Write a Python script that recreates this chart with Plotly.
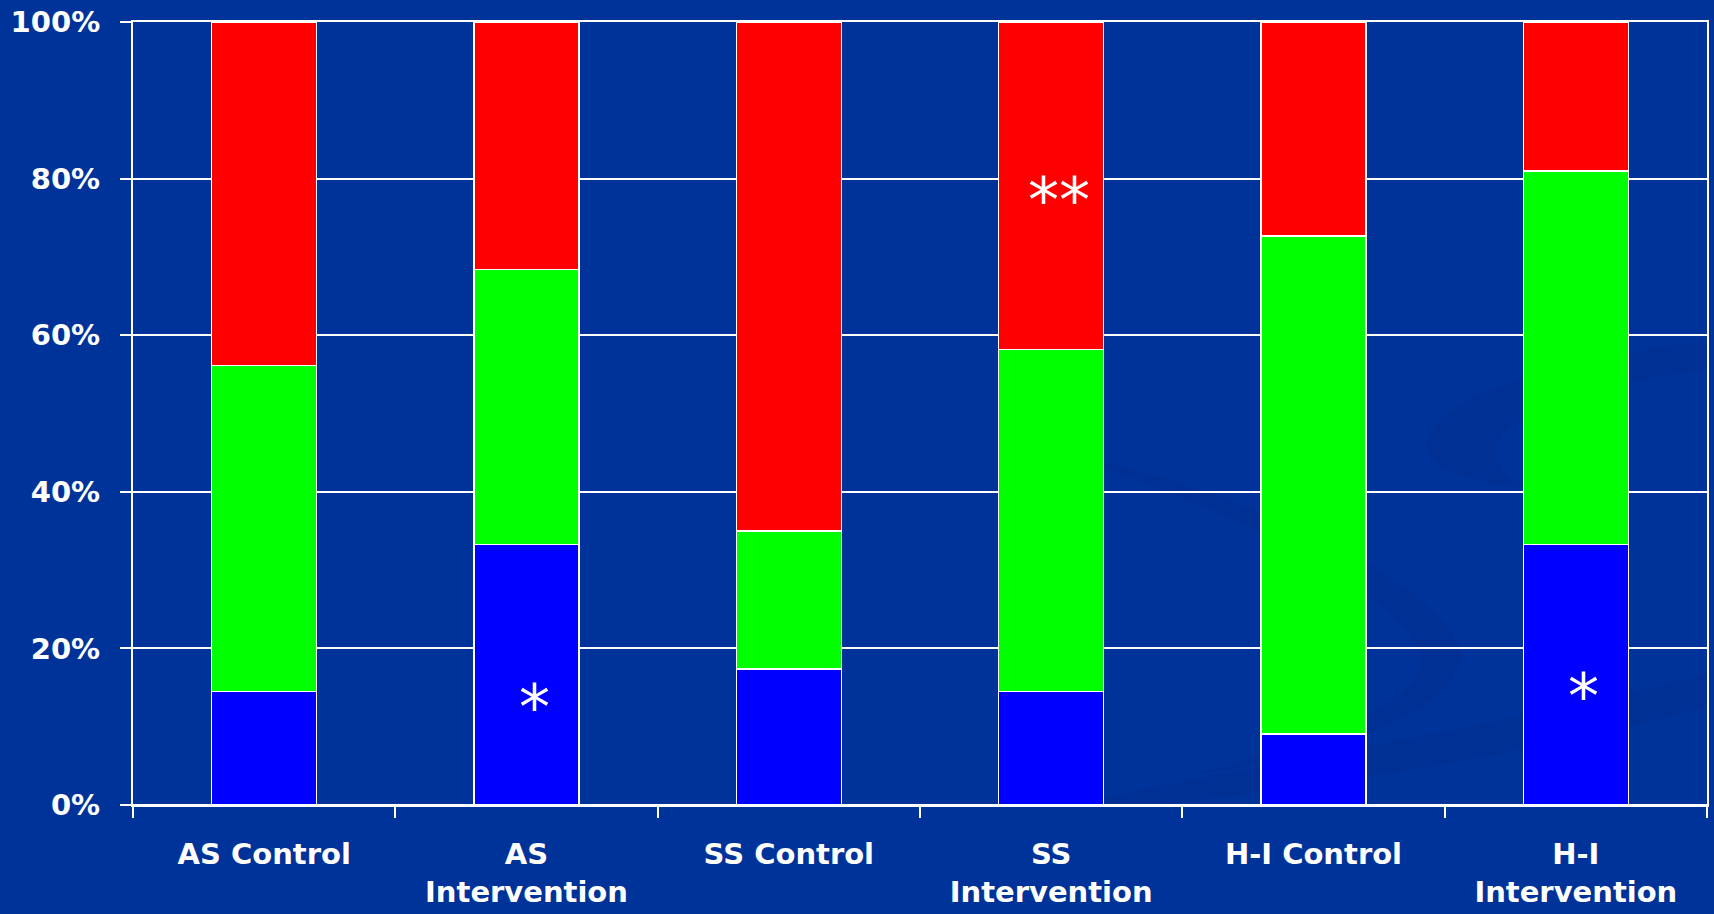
import plotly.graph_objects as go

# Groups and the share of each response band (percent of group)
categories = ["AS Control", "AS<br>Intervention", "SS Control",
              "SS<br>Intervention", "H-I Control", "H-I<br>Intervention"]
blue_pct = [14.5, 33.3, 17.4, 14.5, 9.1, 33.3]
green_pct = [41.6, 35.1, 17.6, 43.7, 63.6, 47.7]
red_pct = [43.9, 31.6, 65.0, 41.8, 27.3, 19.0]

# Significance markers: group, height (percent), symbol
marker_groups = ["AS<br>Intervention", "SS<br>Intervention", "H-I<br>Intervention"]
marker_heights = [12.4, 77.2, 13.9]
marker_text = ["*", "**", "*"]

BG = "#003399"
SWIRL = "rgba(0, 30, 110, 0.10)"
FONT = "DejaVu Sans"

fig = go.Figure()
for vals, color in [(blue_pct, "#0000FF"), (green_pct, "#00FF00"), (red_pct, "#FF0000")]:
    fig.add_trace(go.Bar(
        x=categories, y=vals,
        marker=dict(color=color, line=dict(color="white", width=1.5)),
        hoverinfo="skip", showlegend=False,
    ))

for g, h, t in zip(marker_groups, marker_heights, marker_text):
    fig.add_annotation(
        x=g, y=h, text=t, showarrow=False, xshift=8,
        font=dict(family=FONT, size=62, color="white"),
        yanchor="middle",
    )

# faint decorative swirl in the slide background (pixel-space paths)
W, H = 1714, 914
def P(x, y):
    return f"{x / W:.4f},{1 - y / H:.4f}"

swirl_paths = [
    # crescent at the right edge
    f"M{P(1714, 372)} C{P(1560, 390)} {P(1400, 440)} {P(1410, 500)} "
    f"C{P(1420, 530)} {P(1480, 540)} {P(1520, 545)} "
    f"C{P(1470, 520)} {P(1460, 480)} {P(1560, 440)} C{P(1620, 420)} {P(1680, 410)} {P(1714, 405)} Z",
    # long sweeping band across the lower right
    f"M{P(1020, 914)} C{P(1250, 860)} {P(1500, 820)} {P(1714, 760)} "
    f"L{P(1714, 800)} C{P(1500, 860)} {P(1300, 890)} {P(1120, 914)} Z",
    # inner arc curling back near the middle
    f"M{P(1000, 500)} C{P(1200, 540)} {P(1420, 650)} {P(1445, 730)} "
    f"C{P(1460, 800)} {P(1300, 860)} {P(1150, 880)} "
    f"C{P(1290, 840)} {P(1420, 790)} {P(1400, 735)} "
    f"C{P(1370, 660)} {P(1200, 570)} {P(1000, 500)} Z",
]
for path in swirl_paths:
    fig.add_shape(type="path", path=path, xref="paper", yref="paper",
                  fillcolor=SWIRL, line=dict(width=0), layer="below")

fig.update_layout(
    barmode="stack",
    bargap=0.6,
    width=W, height=H,
    margin=dict(l=133, r=5, t=22, b=108),
    paper_bgcolor=BG, plot_bgcolor="rgba(0,0,0,0)",
    font=dict(family=FONT, color="white"),
)
fig.update_xaxes(
    type="category", tickson="boundaries",
    ticks="outside", ticklen=11, tickwidth=2, tickcolor="white",
    showline=True, mirror=True, linecolor="white", linewidth=2,
    showgrid=False,
    tickfont=dict(family=FONT, size=29, color="white", weight="bold"),
    ticklabelstandoff=22,
)
fig.update_yaxes(
    range=[0, 100], tickvals=[0, 20, 40, 60, 80, 100],
    ticktext=["0%", "20%", "40%", "60%", "80%", "100%"],
    ticks="outside", ticklen=11, tickwidth=2, tickcolor="white",
    showline=True, mirror=True, linecolor="white", linewidth=2,
    showgrid=True, gridcolor="white", gridwidth=2,
    tickfont=dict(family=FONT, size=29, color="white", weight="bold"),
    ticklabelstandoff=14,
)

fig.write_html("out.html")
